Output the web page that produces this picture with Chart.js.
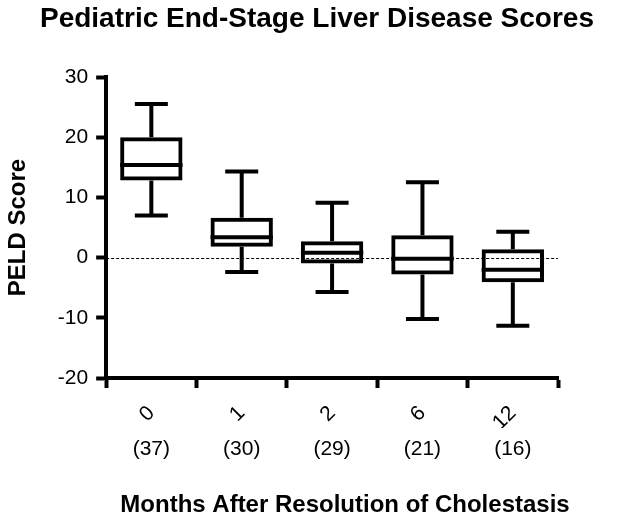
<!DOCTYPE html>
<html lang="en">
<head>
    <meta charset="UTF-8">
    <title>Pediatric End-Stage Liver Disease Scores</title>
    <script src="https://cdn.jsdelivr.net/npm/chart.js"></script>
    <style>
        html, body { margin: 0; padding: 0; background: #fff; }
        #wrap { width: 624px; height: 521px; }
    </style>
</head>
<body>
    <div id="wrap"><canvas id="peldChart"></canvas></div>

    <script>
        // Box plot values
        const months = ['0', '1', '2', '6', '12'];
        const counts = [37, 30, 29, 21, 16];
        const whiskerLow = [7.0, -2.4, -5.7, -10.2, -11.3];
        const q1 = [12.8, 1.8, -1.0, -2.8, -4.1];
        const median = [15.4, 3.4, 0.8, -0.2, -2.0];
        const q3 = [20.0, 6.6, 2.7, 3.7, 1.4];
        const whiskerHigh = [25.5, 14.3, 9.1, 12.5, 4.3];

        const FONT = "'Liberation Sans', Arial, sans-serif";
        const TITLE = 'Pediatric End-Stage Liver Disease Scores';
        const X_TITLE = 'Months After Resolution of Cholestasis';

        // dotted zero line behind boxes
        const zeroLine = {
            id: 'zeroLine',
            beforeDatasetsDraw(chart) {
                const { ctx, chartArea, scales: { y } } = chart;
                const py = Math.round(y.getPixelForValue(0)) + 0.5;
                ctx.save();
                ctx.strokeStyle = '#000';
                ctx.lineWidth = 1;
                ctx.setLineDash([3, 2]);
                ctx.beginPath();
                ctx.moveTo(chartArea.left, py);
                ctx.lineTo(chartArea.right, py);
                ctx.stroke();
                ctx.restore();
            }
        };

        // whiskers, caps and median lines
        const boxExtras = {
            id: 'boxExtras',
            afterDatasetsDraw(chart) {
                const { ctx, scales: { x, y } } = chart;
                const bars = chart.getDatasetMeta(0).data;
                ctx.save();
                ctx.strokeStyle = '#000';
                ctx.lineWidth = 4;
                bars.forEach((bar, i) => {
                    const cx = x.getPixelForValue(i);
                    const half = bar.width / 2;
                    const capHalf = 16.5;
                    const yHi = y.getPixelForValue(whiskerHigh[i]);
                    const yQ3 = y.getPixelForValue(q3[i]);
                    const yQ1 = y.getPixelForValue(q1[i]);
                    const yLo = y.getPixelForValue(whiskerLow[i]);
                    const yMed = y.getPixelForValue(median[i]);
                    ctx.beginPath();
                    ctx.moveTo(cx, yHi); ctx.lineTo(cx, yQ3);
                    ctx.moveTo(cx, yQ1); ctx.lineTo(cx, yLo);
                    ctx.moveTo(cx - capHalf, yHi); ctx.lineTo(cx + capHalf, yHi);
                    ctx.moveTo(cx - capHalf, yLo); ctx.lineTo(cx + capHalf, yLo);
                    ctx.moveTo(cx - half, yMed); ctx.lineTo(cx + half, yMed);
                    ctx.stroke();
                });
                ctx.restore();
            }
        };

        // chart title and x axis title, both sit off the plot centre in the original
        const titles = {
            id: 'titles',
            afterDraw(chart) {
                const ctx = chart.ctx;
                ctx.save();
                ctx.fillStyle = '#000';
                ctx.textAlign = 'center';
                ctx.textBaseline = 'middle';
                ctx.font = 'bold 28px ' + FONT;
                ctx.fillText(TITLE, 317, 19);
                ctx.font = 'bold 24px ' + FONT;
                ctx.fillText(X_TITLE, 345, 505);
                ctx.restore();
            }
        };

        new Chart(document.getElementById('peldChart'), {
            type: 'bar',
            data: {
                labels: months,
                datasets: [{
                    data: q1.map((v, i) => [v, q3[i]]),
                    backgroundColor: 'rgba(255,255,255,0)',
                    borderColor: '#000',
                    borderWidth: 4,
                    borderSkipped: false,
                    categoryPercentage: 1,
                    barPercentage: 0.69
                }]
            },
            options: {
                responsive: true,
                maintainAspectRatio: false,
                animation: false,
                layout: { padding: { left: 4, right: 66, top: 77, bottom: 53 } },
                plugins: {
                    legend: { display: false },
                    tooltip: { enabled: false },
                    title: { display: false }
                },
                scales: {
                    x: {
                        type: 'category',
                        labels: months,
                        offset: true,
                        afterFit: s => { s.height = 50; },
                        border: { color: '#000', width: 4 },
                        grid: { drawOnChartArea: false, tickLength: 10, tickWidth: 4, tickColor: '#000' },
                        ticks: { color: '#000', font: { family: FONT, size: 21 }, minRotation: 45, maxRotation: 45, padding: 13 }
                    },
                    x2: {
                        type: 'category',
                        position: 'bottom',
                        labels: counts.map(c => '(' + c + ')'),
                        offset: true,
                        afterFit: s => { s.height = 40; },
                        grid: { display: false },
                        border: { display: false },
                        ticks: { color: '#000', font: { family: FONT, size: 21 }, maxRotation: 0, padding: 1 }
                    },
                    y: {
                        min: -20,
                        max: 30,
                        border: { color: '#000', width: 4 },
                        grid: { drawOnChartArea: false, tickLength: 10, tickWidth: 4, tickColor: '#000' },
                        ticks: { stepSize: 10, color: '#000', font: { family: FONT, size: 21 }, padding: 8 },
                        title: {
                            display: true,
                            text: 'PELD Score',
                            color: '#000',
                            font: { family: FONT, size: 24, weight: 'bold' },
                            padding: { top: 0, bottom: 17 }
                        }
                    }
                }
            },
            plugins: [zeroLine, boxExtras, titles]
        });
    </script>
</body>
</html>
